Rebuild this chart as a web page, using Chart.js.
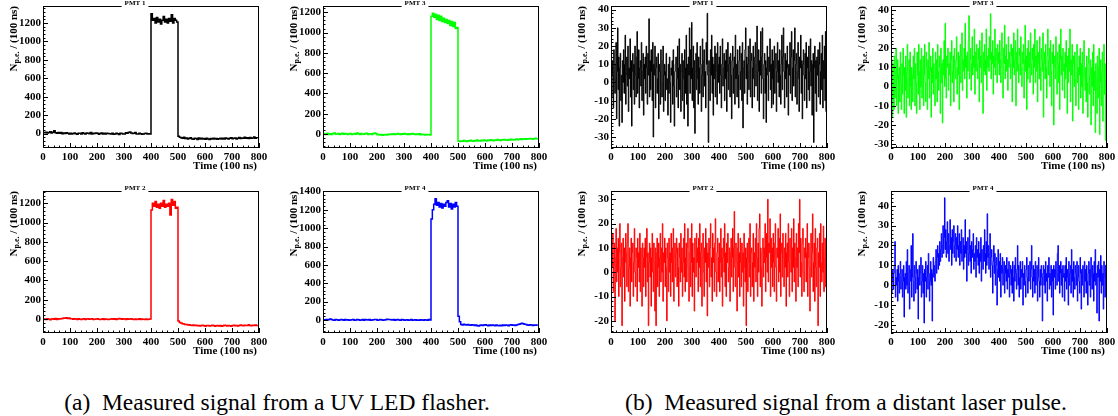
<!DOCTYPE html>
<html>
<head>
<meta charset="utf-8">
<script src="https://cdn.jsdelivr.net/npm/chart.js"></script>
<style>
  html, body { margin: 0; padding: 0; background: #fff; }
  body { width: 1118px; height: 416px; position: relative; overflow: hidden; }
  canvas { position: absolute; }
  .caption { position: absolute; width: 600px; text-align: center; white-space: pre;
             font-family: "Liberation Serif", serif; font-size: 23.5px; line-height: 1; color: #000; }
</style>
</head>
<body>
<canvas id="a1"></canvas>
<canvas id="a3"></canvas>
<canvas id="a2"></canvas>
<canvas id="a4"></canvas>
<canvas id="b1"></canvas>
<canvas id="b3"></canvas>
<canvas id="b2"></canvas>
<canvas id="b4"></canvas>
<div class="caption" style="left:-23px; top:391px;">(a)  Measured signal from a UV LED flasher.</div>
<div class="caption" style="left:546px; top:391px;">(b)  Measured signal from a distant laser pulse.</div>
<script>
// time bins (units of 100 ns): LED traces every 5 bins, laser traces every 2 bins
const ledTimeBins = [
  0, 5, 10, 15, 20, 25, 30, 35, 40, 45, 50, 55, 60, 65, 70, 75, 80, 85, 90, 95,
  100, 105, 110, 115, 120, 125, 130, 135, 140, 145, 150, 155, 160, 165, 170, 175, 180, 185, 190, 195,
  200, 205, 210, 215, 220, 225, 230, 235, 240, 245, 250, 255, 260, 265, 270, 275, 280, 285, 290, 295,
  300, 305, 310, 315, 320, 325, 330, 335, 340, 345, 350, 355, 360, 365, 370, 375, 380, 385, 390, 395,
  400, 405, 410, 415, 420, 425, 430, 435, 440, 445, 450, 455, 460, 465, 470, 475, 480, 485, 490, 495,
  500, 505, 510, 515, 520, 525, 530, 535, 540, 545, 550, 555, 560, 565, 570, 575, 580, 585, 590, 595,
  600, 605, 610, 615, 620, 625, 630, 635, 640, 645, 650, 655, 660, 665, 670, 675, 680, 685, 690, 695,
  700, 705, 710, 715, 720, 725, 730, 735, 740, 745, 750, 755, 760, 765, 770, 775, 780, 785, 790, 795
];
const laserTimeBins = [
  0, 2, 4, 6, 8, 10, 12, 14, 16, 18, 20, 22, 24, 26, 28, 30, 32, 34, 36, 38,
  40, 42, 44, 46, 48, 50, 52, 54, 56, 58, 60, 62, 64, 66, 68, 70, 72, 74, 76, 78,
  80, 82, 84, 86, 88, 90, 92, 94, 96, 98, 100, 102, 104, 106, 108, 110, 112, 114, 116, 118,
  120, 122, 124, 126, 128, 130, 132, 134, 136, 138, 140, 142, 144, 146, 148, 150, 152, 154, 156, 158,
  160, 162, 164, 166, 168, 170, 172, 174, 176, 178, 180, 182, 184, 186, 188, 190, 192, 194, 196, 198,
  200, 202, 204, 206, 208, 210, 212, 214, 216, 218, 220, 222, 224, 226, 228, 230, 232, 234, 236, 238,
  240, 242, 244, 246, 248, 250, 252, 254, 256, 258, 260, 262, 264, 266, 268, 270, 272, 274, 276, 278,
  280, 282, 284, 286, 288, 290, 292, 294, 296, 298, 300, 302, 304, 306, 308, 310, 312, 314, 316, 318,
  320, 322, 324, 326, 328, 330, 332, 334, 336, 338, 340, 342, 344, 346, 348, 350, 352, 354, 356, 358,
  360, 362, 364, 366, 368, 370, 372, 374, 376, 378, 380, 382, 384, 386, 388, 390, 392, 394, 396, 398,
  400, 402, 404, 406, 408, 410, 412, 414, 416, 418, 420, 422, 424, 426, 428, 430, 432, 434, 436, 438,
  440, 442, 444, 446, 448, 450, 452, 454, 456, 458, 460, 462, 464, 466, 468, 470, 472, 474, 476, 478,
  480, 482, 484, 486, 488, 490, 492, 494, 496, 498, 500, 502, 504, 506, 508, 510, 512, 514, 516, 518,
  520, 522, 524, 526, 528, 530, 532, 534, 536, 538, 540, 542, 544, 546, 548, 550, 552, 554, 556, 558,
  560, 562, 564, 566, 568, 570, 572, 574, 576, 578, 580, 582, 584, 586, 588, 590, 592, 594, 596, 598,
  600, 602, 604, 606, 608, 610, 612, 614, 616, 618, 620, 622, 624, 626, 628, 630, 632, 634, 636, 638,
  640, 642, 644, 646, 648, 650, 652, 654, 656, 658, 660, 662, 664, 666, 668, 670, 672, 674, 676, 678,
  680, 682, 684, 686, 688, 690, 692, 694, 696, 698, 700, 702, 704, 706, 708, 710, 712, 714, 716, 718,
  720, 722, 724, 726, 728, 730, 732, 734, 736, 738, 740, 742, 744, 746, 748, 750, 752, 754, 756, 758,
  760, 762, 764, 766, 768, 770, 772, 774, 776, 778, 780, 782, 784, 786, 788, 790, 792, 794, 796, 798
];

const timeTicks = [0, 100, 200, 300, 400, 500, 600, 700, 800];
const ledTicks1200 = [0, 200, 400, 600, 800, 1000, 1200];
const ledTicks1400 = [0, 200, 400, 600, 800, 1000, 1200, 1400];
const laserTicks30to40 = [-30, -20, -10, 0, 10, 20, 30, 40];
const laserTicks20to30 = [-20, -10, 0, 10, 20, 30];
const laserTicks20to40 = [-20, -10, 0, 10, 20, 30, 40];

// (a) UV LED flasher, N p.e. per 100 ns
const ledPmt1 = [
  12, 8, 15, 5, 10, 20, 6, 14, 30, 8, 2, 12, 4, 10, -2, 6, 0, 8, 4, -4,
  2, -6, 0, 6, -2, -8, 4, 2, -4, 8, 0, -6, 6, 2, -2, 10, -4, 4, 0, 6,
  2, -8, 0, 6, -4, 2, -6, 4, 0, -2, -6, 2, -8, -4, 4, -2, -10, 2, 0, -4,
  -6, 8, 4, 12, 18, 6, 0, 4, 10, -4, -6, 2, -2, -8, -4, 0, 4, -6, -2, -4,
  1300, 1230, 1250, 1200, 1260, 1210, 1240, 1190, 1230, 1270, 1210, 1240, 1200, 1250, 1220, 1290, 1200, 1250, 1230, 1210,
  -30, -40, -45, -50, -40, -55, -48, -60, -52, -45, -58, -62, -50, -55, -65, -48, -58, -52, -60, -55,
  -62, -50, -58, -66, -55, -60, -50, -58, -54, -62, -56, -50, -60, -52, -58, -48, -55, -60, -50, -45,
  -56, -52, -48, -58, -50, -44, -54, -48, -52, -40, -50, -46, -55, -42, -50, -48, -38, -52, -45, -48
];
const ledPmt3 = [
  5, -5, 0, 8, -4, 2, -6, 4, 10, -2, 0, 6, -4, 2, 8, -2, 4, 0, -6, 2,
  6, -4, 0, 4, -2, 10, 2, -4, 6, 0, -2, 4, 8, -6, 0, 2, -4, 6, 10, 2,
  -8, -4, -10, -6, -12, -8, -4, -10, -2, -6, 0, -4, 2, -6, -2, 4, 0, -4, 2, -2,
  6, 0, -4, 2, -6, 0, 4, -2, -6, 0, -4, 2, -8, -2, -6, -10, -4, -8, -6, -10,
  1160, 1190, 1150, 1180, 1130, 1170, 1120, 1160, 1110, 1140, 1100, 1130, 1090, 1120, 1070, 1110, 1060, 1100, 1040, 1050,
  -70, -75, -68, -72, -65, -70, -74, -66, -70, -62, -68, -72, -64, -68, -60, -66, -70, -62, -66, -58,
  -64, -68, -60, -64, -56, -62, -66, -58, -62, -55, -60, -64, -56, -60, -54, -58, -62, -55, -58, -52,
  -56, -60, -54, -50, -56, -52, -48, -55, -50, -46, -52, -48, -50, -44, -48, -52, -46, -42, -48, -44
];
const ledPmt2 = [
  -4, 0, -6, 2, -2, -8, 0, 4, -2, 6, -4, 2, 0, 4, 6, 10, 8, 12, 6, 10,
  4, 2, -2, 4, 0, -4, 2, -2, -6, 0, 2, -4, 0, 4, -2, 0, 2, -4, -2, 0,
  4, -2, -6, -2, 2, -4, 0, -2, -6, -2, 0, 4, -2, 2, -4, 0, 6, 2, -2, 4,
  0, -4, 2, -2, 0, 4, -2, -4, 0, -6, -2, 2, -4, 0, -2, -6, 0, -4, -2, 0,
  1130, 1200, 1170, 1220, 1160, 1190, 1150, 1200, 1170, 1230, 1160, 1190, 1170, 1200, 1080, 1240, 1180, 1220, 1150, 1160,
  -20, -35, -42, -48, -52, -56, -58, -62, -60, -64, -66, -62, -68, -65, -70, -66, -72, -68, -64, -70,
  -74, -68, -66, -72, -70, -64, -68, -74, -70, -66, -72, -68, -75, -70, -64, -68, -72, -66, -70, -74,
  -68, -64, -70, -66, -72, -68, -62, -68, -70, -64, -68, -66, -60, -66, -70, -64, -68, -62, -66, -64
];
const ledPmt4 = [
  2, -2, 4, 0, 6, 10, 4, 0, -2, 4, 2, -4, 0, 6, 2, -2, 4, 0, 2, -4,
  0, 2, 4, -2, 0, 6, 2, -2, 0, 4, -2, 6, 2, 0, 4, -2, 0, 2, 6, 4,
  -2, 0, 4, 2, -4, 0, 2, 8, 4, 6, 2, 0, 4, -2, 2, 6, 0, -2, 4, 2,
  -4, 0, 2, -2, 0, 4, -2, 0, 2, -4, 0, -2, 2, 0, -4, 2, 0, -2, 4, 0,
  1100, 1200, 1260, 1320, 1250, 1280, 1230, 1270, 1220, 1260, 1240, 1280, 1300, 1230, 1270, 1210, 1260, 1230, 1280, 1240,
  40, -20, -50, -55, -48, -52, -56, -50, -54, -58, -52, -55, -60, -56, -62, -65, -58, -54, -60, -56,
  -52, -58, -62, -56, -60, -54, -58, -62, -56, -60, -64, -58, -62, -56, -60, -54, -58, -62, -56, -52,
  -58, -54, -60, -56, -50, -46, -40, -36, -42, -48, -50, -54, -58, -52, -56, -60, -54, -58, -56, -52
];

// (b) distant laser pulse
const laserPmt1 = [
  20, -8, 12, 4, -14, 18, 2, -6, 10, 22, -20, 6, 30, -4, 14, -24, 8, 16, -10, 4,
  -22, 12, 0, 18, -6, 10, 26, -12, 4, 14, -2, 20, -16, 8, 2, 24, -8, 12, -24, 6,
  16, -4, 10, -12, 20, 4, -8, 14, 28, -6, 2, 18, -14, 8, 12, -2, 22, -10, 6, 16,
  -18, 10, 2, 14, -6, 20, 8, -12, 16, 4, 35, -8, 12, -4, 18, 6, -10, 22, -30, 10,
  4, 20, -14, 8, 14, -6, 2, 16, -20, 10, 6, -12, 18, 0, -8, 12, 20, -16, 4, 10,
  -10, 6, 16, -4, 2, -18, 10, -6, 14, 0, -22, 8, 4, 12, -12, 18, -2, -24, 6, 10,
  14, -8, 2, 20, -14, 8, 24, -4, 10, -16, 6, 16, -10, 12, 2, -20, 18, 8, -6, 26,
  -12, 10, -24, 14, 4, 30, -6, 18, 2, 33, -10, 8, 20, -14, 12, -28, 6, 16, -4, 22,
  2, -12, 14, 8, -6, 20, 10, -16, 4, 24, -8, 12, 18, -2, 6, -14, 22, 10, 38, 4,
  -33, 12, 6, -10, 18, 4, 26, -6, 14, -18, 10, 2, 20, -8, 16, 6, -12, 22, 0, 10,
  14, -6, 20, 4, -14, 10, 24, -2, 8, 16, -10, 12, 2, 18, -16, 6, 22, -4, 10, 14,
  -8, 16, 4, -20, 12, 20, -6, 8, 14, -12, 26, 2, 10, -8, 18, 4, -14, 12, 20, -4,
  6, 16, -10, 22, -25, 8, 12, -6, 18, 30, 2, 14, -12, 10, 20, -4, 6, 24, -8, 12,
  16, -14, 8, 20, 2, -8, 14, 22, -2, 10, 31, -10, 6, 18, -16, 12, 4, 28, -6, 14,
  30, 2, -20, 10, 16, -6, 12, -22, 8, 20, 4, -10, 14, 6, 24, -4, 10, -14, 18, 2,
  -12, 12, 20, -6, 8, 16, -16, 6, 22, 0, 12, -8, 18, 4, -12, 10, 26, -4, 14, 30,
  6, -14, 16, 2, 12, -8, 20, 8, -18, 10, 4, 22, -6, 14, 28, -10, 8, 18, -2, 12,
  30, -8, 10, 16, -12, 6, 22, 2, -16, 14, 8, 26, -6, 12, -20, 10, 18, 4, -10, 16,
  2, 22, -14, 8, 14, -4, 20, -10, 6, 24, -2, 12, -18, 10, 16, -33, 8, 20, -6, 12,
  -16, 14, 4, 18, -8, 10, 22, -12, 6, 16, -4, 26, -14, 12, 2, 20, -10, 28, -16, 8
];
const laserPmt3 = [
  -22, 14, -16, 12, 2, -12, 16, -6, 8, 20, -10, 4, 14, -14, 6, 10, -8, 18, 2, -12,
  12, -4, 20, 6, -14, 10, -2, 16, -16, 8, 22, -6, 4, 14, -10, 18, 0, -12, 10, 6,
  -8, 16, 4, 20, -10, 12, 2, -14, 18, 6, -4, 22, 8, -12, 14, 0, 20, -6, 10, 16,
  -10, 6, 22, 2, -8, 18, 10, -12, 14, 4, 23, -6, 8, 16, -16, 10, 2, 20, -4, 12,
  6, -10, 18, 4, 14, -8, 22, 8, -2, 16, 10, -14, 20, 2, 12, -19, 14, 6, 24, 0,
  33, 4, -6, 16, 10, 20, -2, 12, 6, 18, -10, 14, 24, 2, 8, 16, -8, 20, 10, 4,
  14, 26, -4, 10, 18, 6, -12, 16, 22, 2, 12, 28, -2, 14, 8, 20, 4, 33, 10, 16,
  -6, 18, 8, 24, 37, 4, 14, 20, -2, 12, 26, 6, 16, 10, 30, -4, 18, 8, 22, 12,
  4, 20, 14, -8, 24, 10, 16, 2, 28, 12, -14, 18, 8, 22, 6, 14, 30, -2, 16, 10,
  20, 8, 26, 14, 38, 4, 18, 12, 24, -4, 16, 10, 30, 6, 20, 14, 2, 22, 12, 18,
  6, 24, 14, 2, 18, 28, 10, -6, 20, 12, 32, 4, 16, 22, 8, 14, -2, 26, 10, 18,
  12, 4, 22, 16, -8, 20, 10, 28, 6, 14, 24, -10, 18, 8, 30, 12, 2, 20, 16, 6,
  26, 10, 0, 18, 12, 22, -6, 14, 32, 8, 16, -12, 20, 4, 24, 10, 18, 2, 28, 12,
  6, 20, 14, -4, 22, 10, 30, 2, 16, 8, 24, -8, 18, 12, 4, 26, 10, -2, 20, 14,
  8, 28, -16, 12, 18, 4, 22, 10, -6, 16, 30, 6, 14, 20, 0, 24, 8, -10, 18, 12,
  22, -20, 10, 16, 4, 26, 8, -4, 18, 12, 2, 22, -12, 14, 30, 6, 16, -2, 20, 8,
  12, -6, 18, 4, 24, 10, -14, 16, 2, 20, 8, 30, -8, 14, 6, 22, -18, 12, 16, 0,
  18, 4, -10, 14, 22, 2, 10, -12, 16, 6, 20, -6, 12, 0, 18, -14, 8, 24, 4, -2,
  10, -8, 16, 2, -16, 12, 20, -4, 6, 14, -20, 10, 0, 18, -10, 22, -2, 8, -24, 12,
  4, -14, 16, -6, 10, 20, -25, 2, 14, -10, 8, 18, -18, 6, 22, -4, 12, -28, 4, -30
];
const laserPmt2 = [
  -15, 10, 2, 16, -8, 4, 12, -20, 6, 18, -4, 10, 0, 14, -10, 8, 20, -6, 2, 12,
  -22, 6, 14, -2, 10, -12, 4, 16, 8, -6, 12, 20, -8, 2, 10, -14, 6, 14, -4, 8,
  12, -10, 4, 18, 0, -6, 10, 6, -12, 14, 2, 8, -4, 16, -8, 10, 4, -14, 12, 6,
  -6, 10, 2, 14, -10, 6, 18, -4, 8, -22, 4, 12, -2, 10, -14, 6, 16, 0, -8, 12,
  4, -16, 10, -22, 8, 14, -6, 2, 12, -10, 6, 16, -4, 10, 0, 20, -12, 8, 4, 14,
  -6, 10, 2, -20, 12, 6, -8, 14, 0, 8, -10, 16, 4, -4, 10, 18, -12, 6, 12, -2,
  8, 14, -6, 10, 2, -14, 12, 6, -4, 16, 0, 10, -10, 4, 14, -2, 20, -8, 6, 12,
  -4, 10, 18, 2, -12, 8, 14, -6, 4, 20, -10, 12, 0, 6, -16, 14, 8, -2, 16, 4,
  10, -8, 14, 2, 20, -6, 8, 12, -14, 6, 16, 0, -10, 10, 4, 18, -4, 12, -18, 8,
  2, 14, -6, 10, 20, -2, 6, -12, 16, 4, 10, -8, 12, 22, 0, -10, 8, 14, -4, 6,
  12, -8, 4, 18, -2, 10, -14, 6, 14, 0, 20, -6, 8, -10, 12, 4, 16, -4, 2, 10,
  -12, 8, 14, -2, 6, 18, -8, 10, 25, 2, -6, 12, 4, -16, 10, 16, -2, 8, -10, 14,
  4, -6, 12, 0, 8, -14, 16, 2, -4, 10, -22, 6, 12, -8, 4, 14, -2, 20, -10, 8,
  10, -6, 4, 16, -12, 8, 2, 14, -4, 20, 6, -10, 12, 0, 18, 24, -6, 10, 2, -14,
  8, 14, -2, 10, 4, 20, -8, 6, 16, 0, 30, -4, 12, 8, 22, -10, 14, 2, 10, -6,
  16, 4, -8, 12, 20, 2, -12, 10, 6, 18, -4, 14, 0, 24, -10, 8, 12, -2, 16, 6,
  -6, 10, 2, 16, -14, 8, 12, -2, 20, 4, -10, 14, 6, 0, 18, -8, 10, 2, 22, -4,
  12, 6, -12, 16, 2, 10, -6, 20, 8, 30, -2, 14, 4, -10, 12, 18, 0, -8, 10, 6,
  14, -4, 8, 20, -10, 6, 12, 2, -16, 10, 16, -2, 8, 24, -8, 4, 12, -12, 18, 2,
  -6, 10, 14, -22, 8, 2, 16, -10, 20, 4, -4, 12, 0, 19, -8, 6, 14, -6, 10, 2
];
const laserPmt4 = [
  4, -4, 2, 8, -2, 6, 10, 22, -6, 4, 0, 8, -8, 10, 2, -4, 6, 12, -2, 4,
  8, -6, 2, 10, -16, 4, 6, -2, 12, 0, 18, -4, 6, 10, -12, 2, 8, 20, -6, 4,
  26, 2, -8, 10, 4, -4, 12, 6, -2, 8, -17, 4, 10, 0, 6, 14, -6, 2, 10, -4,
  6, -19, 8, 2, 12, -6, 4, 10, -2, 16, 6, -8, 2, 12, 0, 8, -18, 6, 14, 4,
  10, 2, 12, 18, 6, 14, 20, 8, 16, 10, 22, 12, 18, 26, 14, 20, 30, 16, 24, 44,
  18, 28, 14, 22, 32, 16, 26, 12, 20, 33, 18, 24, 10, 28, 16, 22, 30, 14, 20, 26,
  12, 24, 18, 30, 14, 20, 26, 10, 22, 16, 28, 12, 18, 24, 8, 20, 14, 33, 16, 22,
  2, 18, 24, 10, 16, 28, 12, 20, 6, 22, 14, 18, 26, 8, 16, 12, 20, 4, 24, 14,
  18, 10, 22, 6, 16, 12, 24, 2, 18, 14, 8, 20, 12, 28, 16, 6, 22, 10, 36, 14,
  20, 8, 16, 26, 4, 14, 18, 10, -4, 12, 20, 6, 16, 0, 10, 14, -10, 8, 18, 4,
  12, 2, 16, -6, 10, 6, 14, 0, 8, 12, -4, 6, 10, 2, 14, -2, 8, 4, 12, -6,
  6, 10, 0, 8, -4, 12, 4, -8, 10, 2, 14, 6, -2, 8, 20, 0, 10, -6, 4, 12,
  -2, 8, 4, 12, -10, 6, 0, 10, 2, -6, 8, 14, 4, -4, 10, 2, 6, 12, -2, 8,
  20, 4, -6, 10, 2, 8, -4, 12, 0, 6, 10, -8, 4, 14, 2, -6, 8, 0, 10, 4,
  -18, 6, 10, 0, 8, -4, 12, 2, 6, -8, 10, 4, 14, -2, 6, 0, 10, -6, 8, 2,
  -15, 10, 4, 8, -2, 12, 6, 0, 16, 20, 2, 10, -4, 6, 12, 0, 8, -6, 10, 4,
  6, -8, 10, 2, 14, -2, 8, 4, -10, 12, 0, 6, 10, -4, 18, 2, 8, -6, 12, 4,
  -2, 10, 6, 0, 12, -8, 4, 10, 2, -4, 14, 6, -12, 8, 0, 10, 4, -6, 12, 2,
  8, -4, 10, 2, -10, 6, 12, 0, 8, -6, 14, 4, -2, 10, 6, -8, 12, 2, 18, 0,
  6, -14, 10, 4, 12, -18, 8, 2, 15, -4, 10, 0, 6, -12, 12, 4, -6, 10, 2, -8
];

// frame geometry (page px) of each pad
const FRAME_W = 216, FRAME_H = 142;
const PAD_L = 45, PAD_T = 20, PAD_R = 12, AXIS_H = 40;
const FONT = '"Liberation Serif", "Times New Roman", serif';

const panels = [
  { id: 'a1', left: 43,  top: 6,   title: 'PMT 1', times: ledTimeBins,   values: ledPmt1,   color: '#000000', lw: 1.5, yMin: -157, yMax: 1385, yTicks: ledTicks1200, yMinor: 40 },
  { id: 'a3', left: 323, top: 6,   title: 'PMT 3', times: ledTimeBins,   values: ledPmt3,   color: '#00ff00', lw: 1.5, yMin: -138, yMax: 1262, yTicks: ledTicks1200, yMinor: 40 },
  { id: 'a2', left: 43,  top: 191, title: 'PMT 2', times: ledTimeBins,   values: ledPmt2,   color: '#ff0000', lw: 1.5, yMin: -145, yMax: 1328, yTicks: ledTicks1200, yMinor: 40 },
  { id: 'a4', left: 323, top: 191, title: 'PMT 4', times: ledTimeBins,   values: ledPmt4,   color: '#0000ff', lw: 1.5, yMin: -142, yMax: 1405, yTicks: ledTicks1400, yMinor: 40 },
  { id: 'b1', left: 611, top: 6,   title: 'PMT 1', times: laserTimeBins, values: laserPmt1, color: '#000000', lw: 1,   yMin: -36,  yMax: 42,   yTicks: laserTicks30to40, yMinor: 2 },
  { id: 'b3', left: 891, top: 6,   title: 'PMT 3', times: laserTimeBins, values: laserPmt3, color: '#00ff00', lw: 1,   yMin: -32,  yMax: 42,   yTicks: laserTicks30to40, yMinor: 2 },
  { id: 'b2', left: 611, top: 191, title: 'PMT 2', times: laserTimeBins, values: laserPmt2, color: '#ff0000', lw: 1,   yMin: -25,  yMax: 33.4, yTicks: laserTicks20to30, yMinor: 2 },
  { id: 'b4', left: 891, top: 191, title: 'PMT 4', times: laserTimeBins, values: laserPmt4, color: '#0000ff', lw: 1,   yMin: -24,  yMax: 47.4, yTicks: laserTicks20to40, yMinor: 2 }
];

// ROOT-style pad: closed frame, inward ticks, title box, axis titles
const rootFrame = {
  id: 'rootFrame',
  afterDraw(chart, args, o) {
    const { ctx, chartArea: a } = chart;
    const xs = chart.scales.x, ys = chart.scales.y;
    ctx.save();
    ctx.strokeStyle = '#000';
    ctx.lineWidth = 1;
    ctx.beginPath();
    for (let v = xs.min; v <= xs.max; v += 20) {
      const px = Math.round(xs.getPixelForValue(v)) + 0.5;
      const len = timeTicks.includes(v) ? 5 : 2.5;
      ctx.moveTo(px, a.bottom);
      ctx.lineTo(px, a.bottom - len);
    }
    for (let v = Math.ceil(ys.min / o.yMinor) * o.yMinor; v <= ys.max; v += o.yMinor) {
      const py = Math.round(ys.getPixelForValue(v)) + 0.5;
      const len = o.yTicks.includes(v) ? 5 : 2.5;
      ctx.moveTo(a.left, py);
      ctx.lineTo(a.left + len, py);
    }
    ctx.stroke();
    ctx.strokeRect(a.left + 0.5, a.top + 0.5, a.width - 1, a.height - 1);

    // pad title
    ctx.font = 'bold 7px ' + FONT;
    const tw = ctx.measureText(o.title).width;
    const cx = (a.left + a.right) / 2 - 16;
    ctx.fillStyle = '#fff';
    ctx.fillRect(cx - tw / 2 - 3, a.top - 8, tw + 6, 10);
    ctx.fillStyle = '#000';
    ctx.textAlign = 'center';
    ctx.textBaseline = 'alphabetic';
    ctx.fillText(o.title, cx, a.top - 1.5);

    // x title
    ctx.font = 'bold 11px ' + FONT;
    ctx.textAlign = 'right';
    ctx.fillText('Time (100 ns)', a.right - 2, a.bottom + 20.5);

    // y title with subscript
    ctx.translate(a.left - 30, a.top);
    ctx.rotate(-Math.PI / 2);
    ctx.textAlign = 'left';
    const big = 'bold 11px ' + FONT, small = 'bold 8px ' + FONT;
    ctx.font = big;
    const wN = ctx.measureText('N').width;
    const wRest = ctx.measureText(' / (100 ns)').width;
    ctx.font = small;
    const wSub = ctx.measureText('p.e.').width;
    let u = -(wN + wSub + wRest);
    ctx.font = big;
    ctx.fillText('N', u, 4);
    u += wN;
    ctx.font = small;
    ctx.fillText('p.e.', u, 5.5);
    u += wSub;
    ctx.font = big;
    ctx.fillText(' / (100 ns)', u, 4);
    ctx.restore();
  }
};

const tickFont = { family: FONT, weight: 'bold', size: 11 };

panels.forEach((p) => {
  const canvas = document.getElementById(p.id);
  canvas.width = PAD_L + FRAME_W + PAD_R;
  canvas.height = PAD_T + FRAME_H + AXIS_H;
  canvas.style.left = (p.left - PAD_L) + 'px';
  canvas.style.top = (p.top - PAD_T) + 'px';

  new Chart(canvas, {
    type: 'line',
    data: {
      datasets: [{
        data: p.times.map((t, i) => ({ x: t, y: p.values[i] })),
        borderColor: p.color,
        borderWidth: p.lw,
        pointRadius: 0,
        stepped: true,
        fill: false
      }]
    },
    options: {
      animation: false,
      responsive: false,
      devicePixelRatio: 1,
      events: [],
      layout: { padding: { left: 0, top: PAD_T, right: PAD_R, bottom: 0 } },
      plugins: {
        legend: { display: false },
        tooltip: { enabled: false },
        rootFrame: { title: p.title, yTicks: p.yTicks, yMinor: p.yMinor }
      },
      scales: {
        x: {
          type: 'linear', min: 0, max: 800,
          grid: { display: false, drawTicks: false },
          border: { display: false },
          ticks: { color: '#000', padding: 3, maxRotation: 0, autoSkip: false, font: tickFont,
                   callback: (v) => String(v) },
          afterBuildTicks: (s) => { s.ticks = timeTicks.map((v) => ({ value: v })); },
          afterFit: (s) => { s.height = AXIS_H; }
        },
        y: {
          type: 'linear', min: p.yMin, max: p.yMax,
          grid: { display: false, drawTicks: false },
          border: { display: false },
          ticks: { color: '#000', padding: 2, autoSkip: false, font: tickFont,
                   callback: (v) => String(v) },
          afterBuildTicks: (s) => { s.ticks = p.yTicks.map((v) => ({ value: v })); },
          afterFit: (s) => { s.width = PAD_L; }
        }
      }
    },
    plugins: [rootFrame]
  });
});
</script>
</body>
</html>
